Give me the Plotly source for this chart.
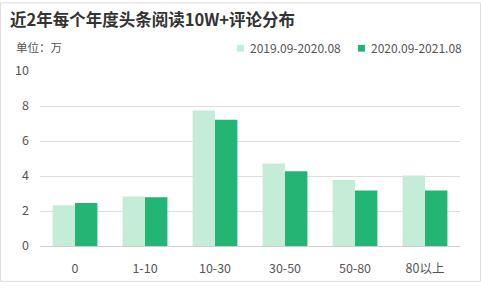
import plotly.graph_objects as go

categories = ["0", "1-10", "10-30", "30-50", "50-80", "80以上"]
series_names = ["2019.09-2020.08", "2020.09-2021.08"]
values_2019 = [2.33, 2.83, 7.75, 4.71, 3.77, 4.03]
values_2020 = [2.46, 2.78, 7.22, 4.27, 3.17, 3.17]
y_ticks = [0, 2, 4, 6, 8, 10]

colors = ["#c4ecd7", "#22b573"]
FONT = "Noto Sans CJK SC"

W, H = 481, 289
ML, MR, MT, MB = 40, 21, 71, 37
PW, PH = W - ML - MR, H - MT - MB

fig = go.Figure()
fig.add_trace(go.Bar(x=categories, y=values_2019, name=series_names[0],
                     marker=dict(color=colors[0], line=dict(width=0)), showlegend=False))
fig.add_trace(go.Bar(x=categories, y=values_2020, name=series_names[1],
                     marker=dict(color=colors[1], line=dict(width=0)), showlegend=False))

def px_x(p):
    return (p - ML) / PW

def px_y(p):
    return 1 - (p - MT) / PH

annotations = [
    dict(text="<b>近2年每个年度头条阅读10W+评论分布</b>", x=px_x(8), y=px_y(17), xref="paper", yref="paper",
         xanchor="left", yanchor="middle", showarrow=False,
         font=dict(family=FONT, size=16.5, color="#333333")),
    dict(text="单位：万", x=px_x(14), y=px_y(46), xref="paper", yref="paper",
         xanchor="left", yanchor="middle", showarrow=False,
         font=dict(family=FONT, size=11.5, color="#555555")),
]
legend_x = [237, 358]
for i, name in enumerate(series_names):
    annotations.append(dict(text=name, x=px_x(legend_x[i] + 11), y=px_y(47), xref="paper", yref="paper",
                            xanchor="left", yanchor="middle", showarrow=False,
                            font=dict(family=FONT, size=12, color="#555555")))

shapes = []
for i in range(2):
    x0 = legend_x[i]
    shapes.append(dict(type="rect", xref="paper", yref="paper",
                       x0=px_x(x0), x1=px_x(x0 + 7), y0=px_y(44), y1=px_y(51),
                       fillcolor=colors[i], line=dict(width=0)))
shapes.append(dict(type="rect", xref="paper", yref="paper",
                   x0=px_x(0.5), x1=px_x(W - 0.5), y0=px_y(H - 0.5), y1=px_y(0.5),
                   line=dict(color="#dddddd", width=1), fillcolor="rgba(0,0,0,0)", layer="below"))

fig.update_layout(
    width=W, height=H,
    margin=dict(l=ML, r=MR, t=MT, b=MB, pad=0),
    paper_bgcolor="white", plot_bgcolor="white",
    barmode="group", bargap=0.36, bargroupgap=0,
    font=dict(family=FONT, size=12, color="#666666"),
    annotations=annotations, shapes=shapes,
    xaxis=dict(showgrid=False, showline=True, linecolor="#cccccc", linewidth=1,
               ticks="", ticklabelstandoff=11, tickfont=dict(size=12.5, color="#555555")),
    yaxis=dict(range=[0, 10], tickvals=y_ticks, showgrid=True, gridcolor="#dddddd", gridwidth=1,
               zeroline=False, showline=False, ticks="", ticklabelstandoff=10,
               tickfont=dict(size=12.5, color="#555555")),
)

fig.write_html("out.html")
